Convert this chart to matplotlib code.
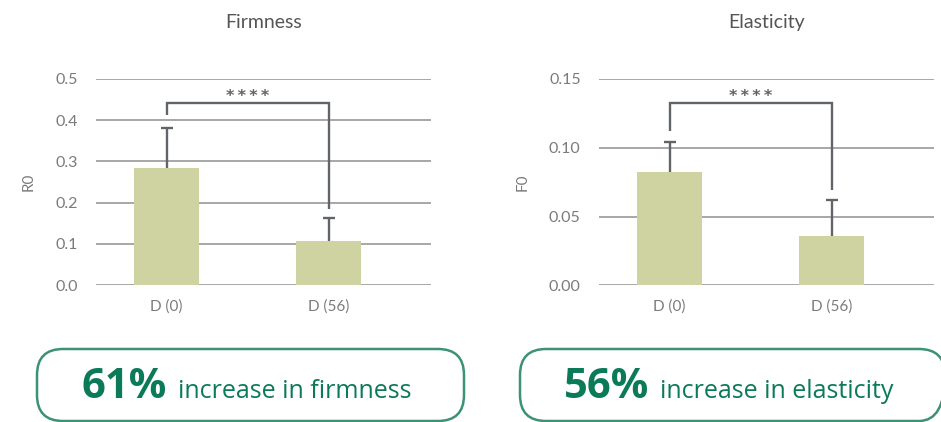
import matplotlib
matplotlib.use("Agg")
import matplotlib.pyplot as plt
from matplotlib.patches import FancyBboxPatch
import numpy as np

# ---- data ----
categories = ["D (0)", "D (56)"]
firm_values = [0.284, 0.107]
firm_err = [0.096, 0.057]
elas_values = [0.0824, 0.0358]
elas_err = [0.022, 0.026]
firm_ticks = [0.0, 0.1, 0.2, 0.3, 0.4, 0.5]
elas_ticks = [0.00, 0.05, 0.10, 0.15]
firm_bracket = [0.413, 0.442, 0.184]   # left leg bottom, top, right leg bottom
elas_bracket = [0.112, 0.1325, 0.0693]
firm_star_y = 0.467
elas_star_y = 0.1402
firm_pct = "61%"
elas_pct = "56%"
firm_text = "increase in firmness"
elas_text = "increase in elasticity"

W, H = 941, 422
fig = plt.figure(figsize=(W / 100, H / 100), dpi=100)

BAR = "#cfd3a1"
DARK = "#616569"
GRID = "#8f8f8f"
TICK = "#7b7b7b"
GREEN = "#0b7a58"
EDGE = "#3d9175"
FONT = ["Lato", "DejaVu Sans"]


def px_axes(x0, x1, ytop, ybot):
    return [x0 / W, 1 - ybot / H, (x1 - x0) / W, (ybot - ytop) / H]


def draw_panel(rect, values, errs, ticks, fmt, ylabel, title, bracket, star_y):
    ax = fig.add_axes(rect)
    x = np.arange(len(categories))
    vals = np.array(values)
    tops = vals + np.array(errs)
    ax.bar(x, vals, width=0.4, color=BAR, zorder=3)
    ax.vlines(x, vals, tops, color=DARK, lw=1.7, zorder=4)
    ax.plot(x, tops, ls="none", marker="_", ms=8, mew=1.7, color=DARK, zorder=4)
    ax.plot([x[0], x[0], x[1], x[1]], [bracket[0], bracket[1], bracket[1], bracket[2]],
            color=DARK, lw=1.7, zorder=4, solid_capstyle="butt", solid_joinstyle="miter")
    ax.annotate("*\u2009*\u2009*\u2009*", xy=((x[0] + x[1]) / 2, star_y), xytext=(0, -3),
                textcoords="offset points", ha="center", va="center",
                color=DARK, fontsize=11.5, fontweight="bold", family="DejaVu Sans")
    ax.set_xlim(-0.437, 1.63)
    ax.set_ylim(ticks[0], ticks[-1])
    ax.set_yticks(ticks)
    ax.set_yticklabels([fmt.format(t) for t in ticks], family=FONT, fontsize=11.5,
                       color=TICK)
    ax.set_xticks(x)
    ax.set_xticklabels(categories, family=FONT, fontsize=11, color=TICK)
    ax.tick_params(axis="both", length=0)
    ax.tick_params(axis="y", pad=13)
    ax.tick_params(axis="x", pad=10)
    for s in ax.spines.values():
        s.set_visible(False)
    ax.yaxis.grid(True, color=GRID, lw=1.1, zorder=1)
    ax.set_axisbelow(True)
    ax.set_ylabel(ylabel, family=FONT, fontsize=11, color=TICK, labelpad=14)
    ax.set_title(title, family=FONT, fontsize=14, color="#555555", pad=37)
    return ax


axL = draw_panel(px_axes(95.7, 430.7, 79, 285.2), firm_values, firm_err, firm_ticks,
                 "{:.1f}", "R0", "Firmness", firm_bracket, firm_star_y)
axR = draw_panel(px_axes(598.7, 933.7, 79, 285.3), elas_values, elas_err, elas_ticks,
                 "{:.2f}", "F0", "Elasticity", elas_bracket, elas_star_y)

# ---- bottom rounded boxes (overlay axes in pixel units) ----
ov = fig.add_axes([0, 0, 1, 1], zorder=10)
ov.set_xlim(0, W)
ov.set_ylim(H, 0)
ov.axis("off")
ov.patch.set_alpha(0)

boxes = [(37, 349, 464 - 37, 72), (520, 349, 945 - 520, 72)]
for (bx, by, bw, bh) in boxes:
    p = FancyBboxPatch((bx, by), bw, bh, boxstyle="round,pad=0,rounding_size=26",
                       fc="none", ec=EDGE, lw=1.8, clip_on=False)
    ov.add_patch(p)

fig.canvas.draw()
renderer = fig.canvas.get_renderer()
for (x0, pct, txt) in [(82, firm_pct, firm_text), (564, elas_pct, elas_text)]:
    t1 = ov.text(x0, 398, pct, ha="left", va="baseline", color=GREEN, fontsize=30,
                 fontweight="bold", family=["Open Sans", "DejaVu Sans"])
    bb = t1.get_window_extent(renderer=renderer)
    x_end = bb.x1
    ov.text(x_end + 11, 398, txt, ha="left", va="baseline", color=GREEN, fontsize=18,
            family=["Open Sans", "DejaVu Sans"])

fig.savefig("out.png", dpi=100)
